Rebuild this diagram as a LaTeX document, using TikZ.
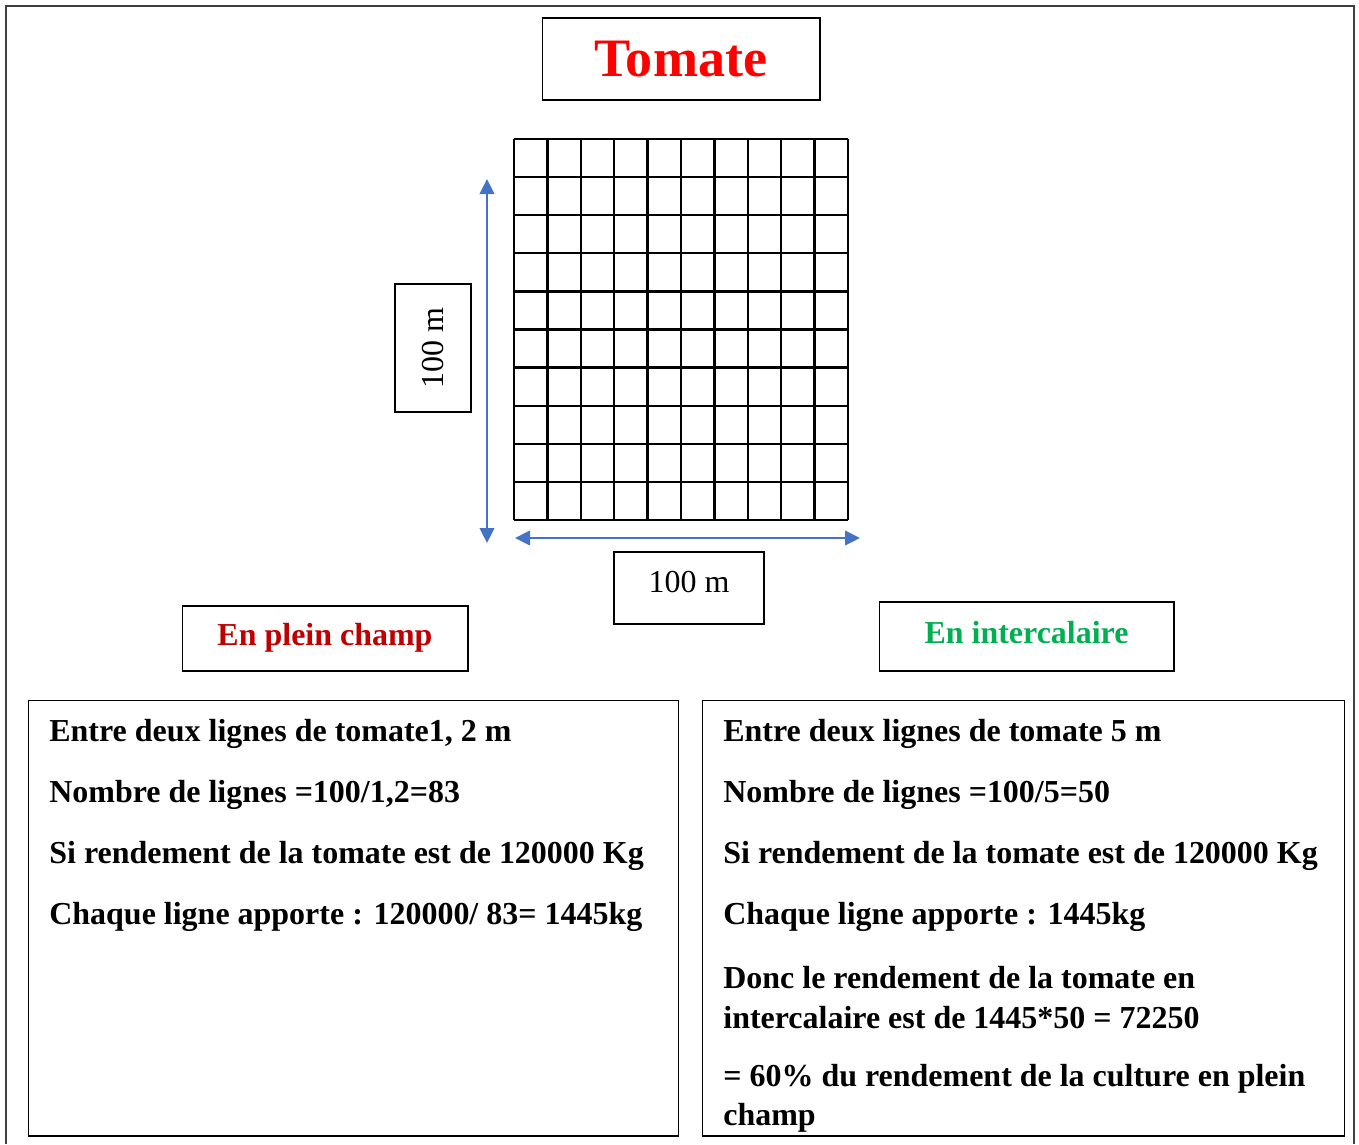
\documentclass[tikz,border=0pt]{standalone}
\usepackage{fontspec}
\setmainfont{Liberation Serif}
\usetikzlibrary{arrows.meta, positioning}

\definecolor{titlered}{HTML}{FF0000}
\definecolor{champred}{HTML}{C00000}
\definecolor{intergreen}{HTML}{00B050}
\definecolor{dimblue}{HTML}{4472C4}

\begin{document}
\begin{tikzpicture}[
  x=0.02cm, y=-0.02cm,
  >={Triangle[length=0.3cm, width=0.29cm]},
  box/.style={draw, rectangle, line width=0.6pt, inner sep=0pt, align=center},
  tagbox/.style={box, font=\fontsize{18.2}{22}\selectfont\bfseries, text height=12pt, text depth=4pt},
  panel/.style={box, minimum height=8.72cm},
  txt/.style={anchor=base west, inner sep=0pt, font=\fontsize{18.2}{22}\selectfont\bfseries},
  dimarrow/.style={<->, line width=1.4pt, dimblue},
  gridline/.style={line width=1.3pt}
]

% Page and outer frame
\useasboundingbox (0,0) rectangle (1359,1144);
\draw[line width=0.8pt, black!75] (6,1144) -- (6,6) -- (1354,6) -- (1354,1144);

% Title
\node[box, minimum width=5.56cm, minimum height=1.64cm, text=titlered,
      font=\fontsize{30.8}{34}\selectfont\bfseries] (title) at (681,59) {Tomate};

% Field grid (10 x 10)
\foreach \i in {0,...,10} {
  \draw[gridline] ({514+\i*33.4},139) -- ({514+\i*33.4},520);
  \draw[gridline] (514,{139+\i*38.1}) -- (848,{139+\i*38.1});
}

% Dimensions
\coordinate (vtop) at (487,179);
\coordinate (vbot) at (487,543);
\coordinate (hleft) at (515,538);
\coordinate (hright) at (860,538);
\draw[dimarrow] (vtop) -- (vbot);
\draw[dimarrow] (hleft) -- (hright);

\node[box, rotate=90, minimum width=2.56cm, minimum height=1.52cm,
      font=\fontsize{18.2}{22}\selectfont] (height) at (433,348) {100 m};
\node[box, minimum width=3.0cm, minimum height=1.44cm, text height=12pt, text depth=7pt,
      font=\fontsize{18.2}{22}\selectfont] (width) at (689,588) {100 m};

% Headings of the two cases
\node[tagbox, minimum width=5.72cm, minimum height=1.30cm, text=champred] (plein) at (325,638.5) {En plein champ};
\node[tagbox, minimum width=5.90cm, minimum height=1.38cm, text=intergreen] (inter) at (1026.5,636.5) {En intercalaire};

% Panels
\node[panel, minimum width=13.02cm] (leftpanel) at (353.5,918) {};
\node[panel, minimum width=12.86cm] (rightpanel) at (1023.5,918) {};

% En plein champ
\node[txt] (p1) at (49,741) {Entre deux lignes de tomate1, 2 m};
\node[txt] (p2) at (49,802) {Nombre de lignes =100/1,2=83};
\node[txt] (p3) at (49,863) {Si rendement de la tomate est de 120000 Kg};
\node[txt] (p4) at (49,924) {Chaque ligne apporte : 120000/ 83= 1445kg};

% En intercalaire
\node[txt] (i1) at (723,741) {Entre deux lignes de tomate 5 m};
\node[txt] (i2) at (723,802) {Nombre de lignes =100/5=50};
\node[txt] (i3) at (723,863) {Si rendement de la tomate est de 120000 Kg};
\node[txt] (i4) at (723,924) {Chaque ligne apporte : 1445kg};
\node[txt] (i5) at (723,988) {Donc le rendement de la tomate en};
\node[txt] (i6) at (723,1028) {intercalaire est de 1445*50 = 72250};
\node[txt] (i7) at (723,1086) {= 60\% du rendement de la culture en plein};
\node[txt] (i8) at (723,1125) {champ};

\end{tikzpicture}
\end{document}
